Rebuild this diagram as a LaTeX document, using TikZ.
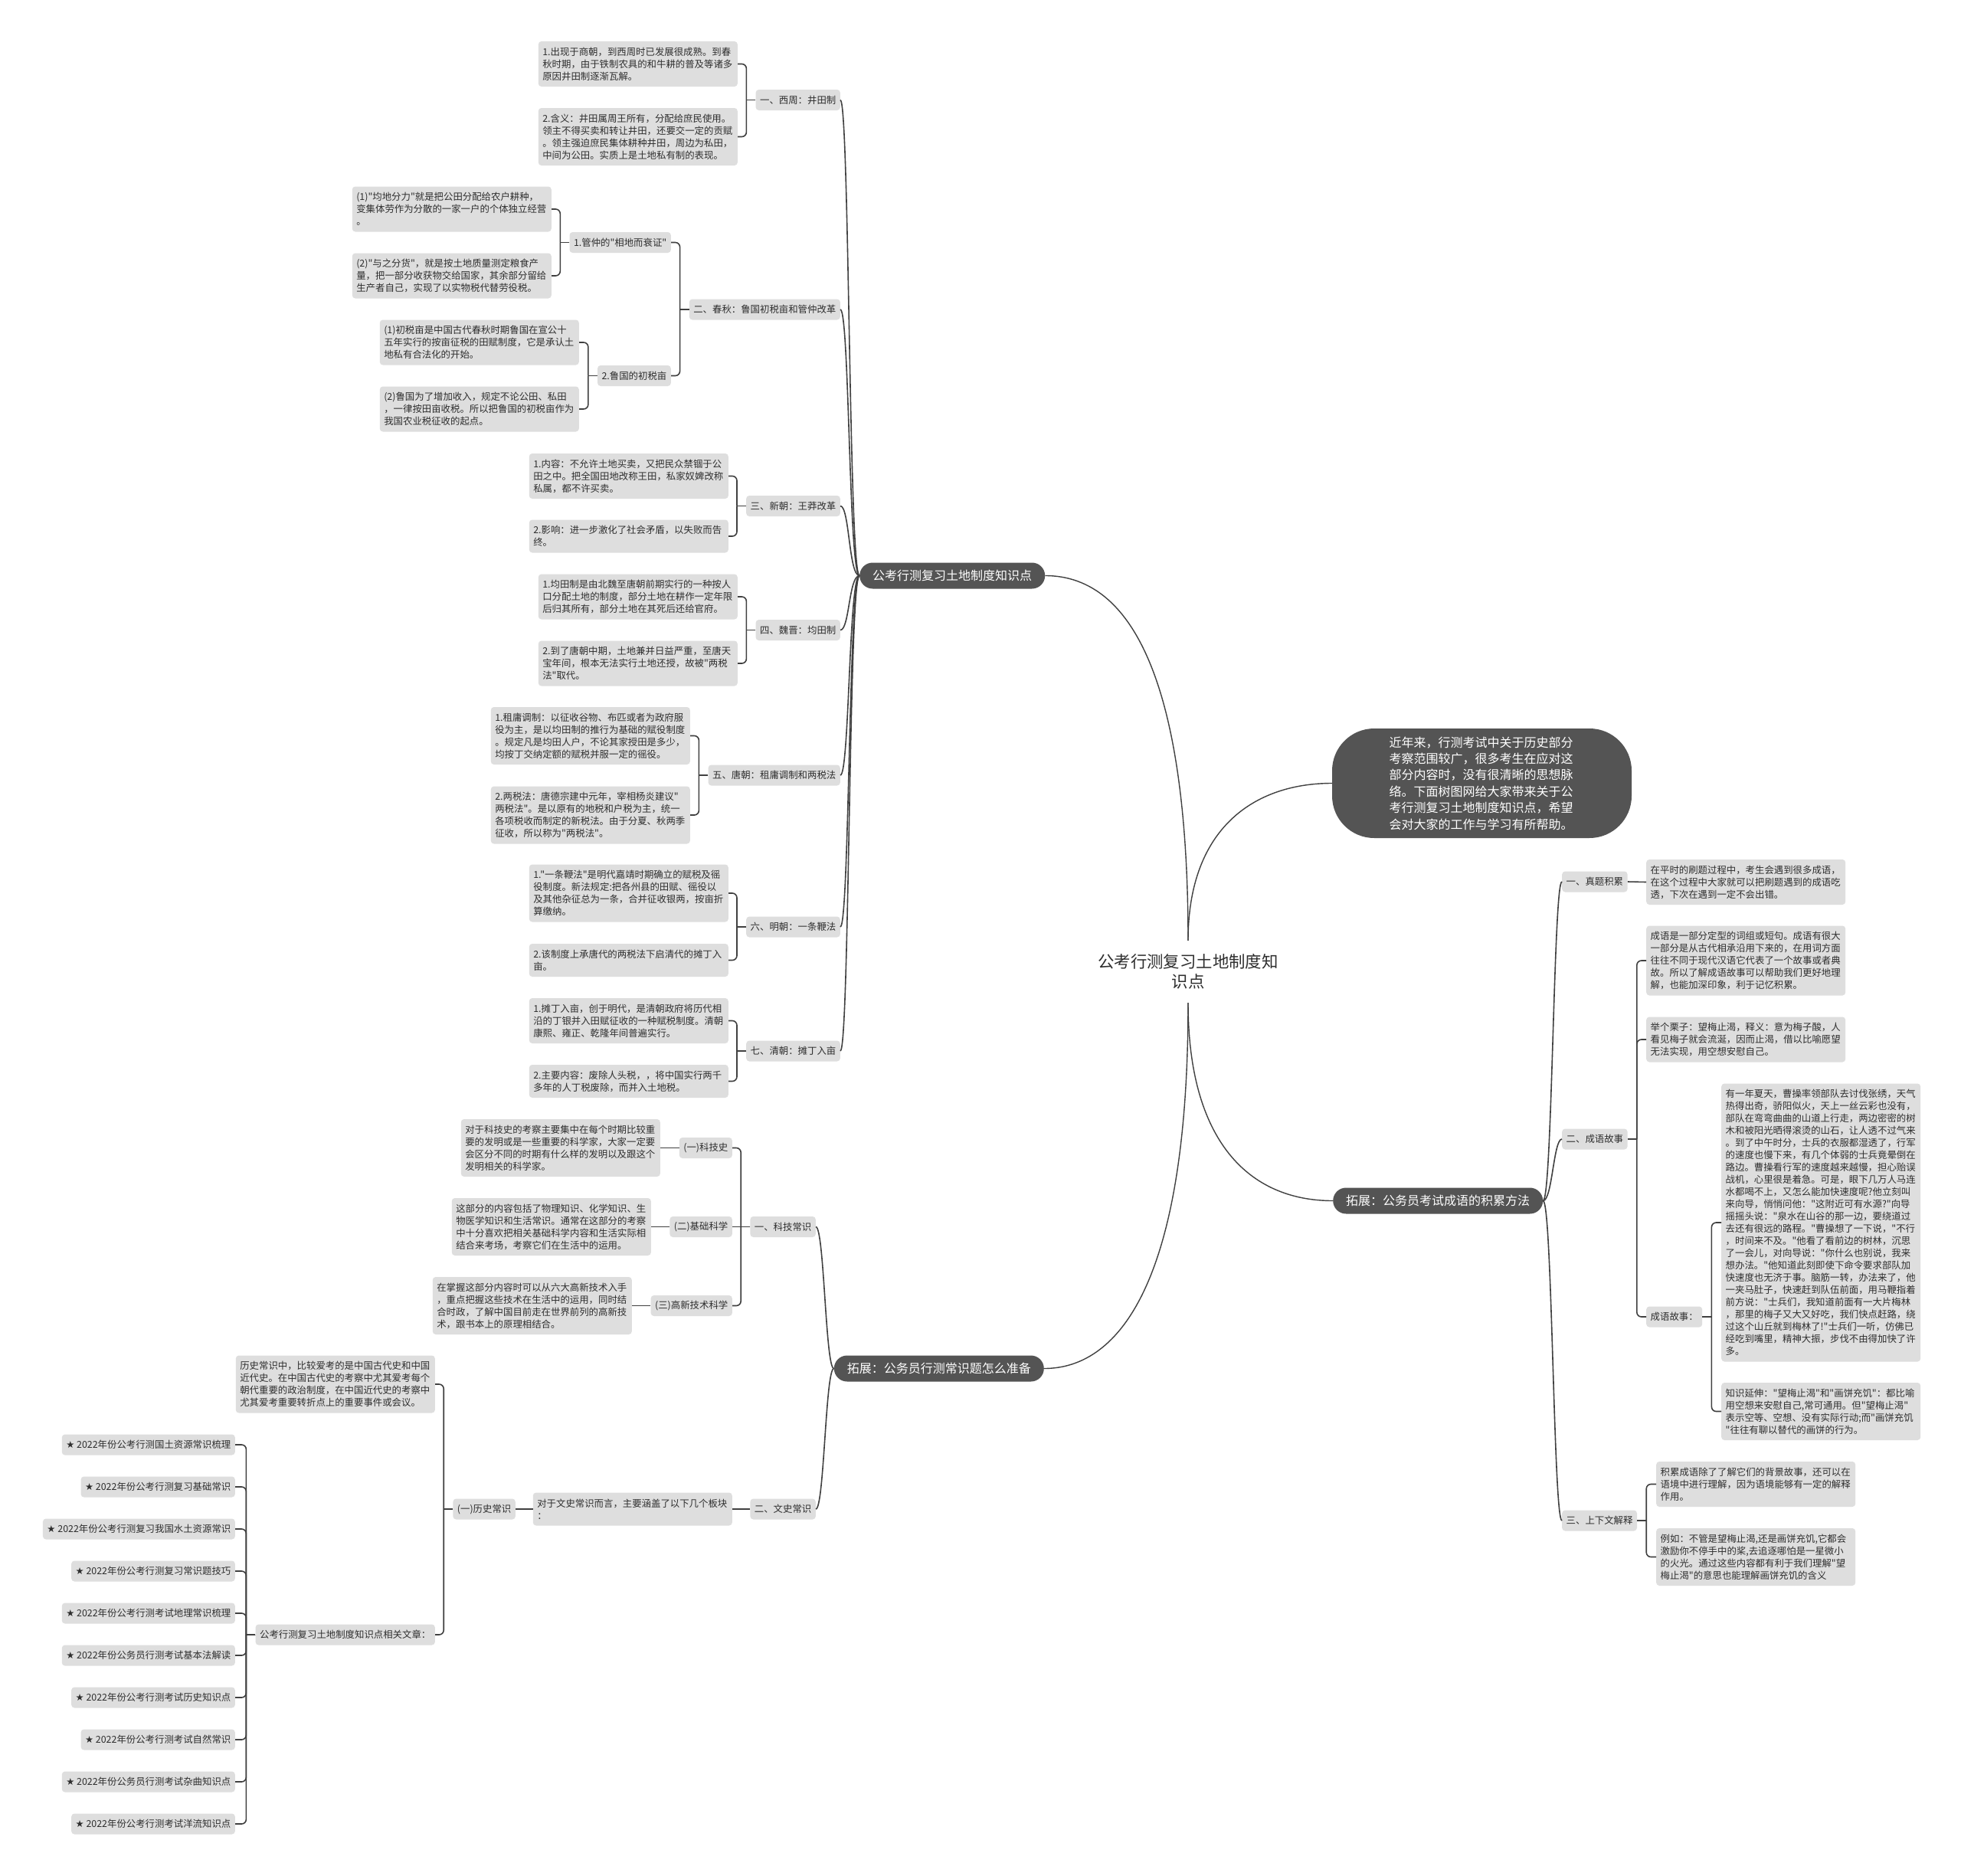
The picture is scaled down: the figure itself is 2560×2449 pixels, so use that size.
\documentclass[tikz,border=0pt]{standalone}
\usepackage{fontspec}
\newfontfamily\cjkf{Noto Sans CJK SC}
\newfontfamily\djv{DejaVu Sans}
\usetikzlibrary{calc}
\definecolor{boxc}{HTML}{DEDEDE}
\definecolor{txt}{HTML}{2E2E2E}
\definecolor{dark}{HTML}{545454}
\definecolor{lnc}{HTML}{404040}
\tikzset{
 sb/.style={fill=boxc, text=txt, rounded corners=4pt, inner xsep=5.5pt, inner ysep=0pt, font=\cjkf\fontsize{12.4}{16}\selectfont, align=left, minimum height=27pt},
 tw/.style={text width=249pt},
 lnA/.style={minimum height=43pt},
 lnB/.style={minimum height=59pt},
 lnC/.style={minimum height=75pt},
 lnD/.style={minimum height=91pt},
 dk/.style={fill=dark, text=white, rounded corners=17pt, inner xsep=17pt, inner ysep=0pt, minimum height=34pt, font=\cjkf\fontsize{16}{20}\selectfont},
 conn/.style={draw=lnc, line width=1.6pt},
 bconn/.style={draw=lnc, line width=1.4pt},
 rc/.style={rounded corners=6pt}
}
\newcommand\conL[2]{\draw[conn] (#1.west) -- ++(-12,0); \draw[conn,rc] ($(#1.west)+(-12,0)$) |- (#2.east);}
\newcommand\conR[2]{\draw[conn] (#1.east) -- ++(12,0); \draw[conn,rc] ($(#1.east)+(12,0)$) |- (#2.west);}
\begin{document}
\begin{tikzpicture}[x=1pt,y=-1pt]
\fill[white] (0,0) rectangle (2560,2449);
\useasboundingbox (0,0) rectangle (2560,2449);

% central and first level
\node[font=\cjkf\fontsize{21.4}{26}\selectfont, text=txt, align=center, minimum height=81pt, inner sep=0pt] (C0) at (1551,1268.5) {公考行测复习土地制度知\\识点};
\node[fill=dark, text=white, rounded corners=55pt, text width=242pt, inner xsep=74.5pt, inner ysep=0pt, minimum height=143pt, align=left, font=\cjkf\fontsize{16}{21.4}\selectfont] (IN) at (1934.5,1022.5) {近年来，行测考试中关于历史部分\\考察范围较广，很多考生在应对这\\部分内容时，没有很清晰的思想脉\\络。下面树图网给大家带来关于公\\考行测复习土地制度知识点，希望\\会对大家的工作与学习有所帮助。};
\node[dk, anchor=west] (L) at (1122,751.5) {公考行测复习土地制度知识点};
\node[dk, anchor=west] (RR) at (1740,1567.5) {拓展：公务员考试成语的积累方法};
\node[dk, anchor=east] (LB) at (1363,1786.5) {拓展：公务员行测常识题怎么准备};

\draw[bconn] (L.east) .. controls +(136,0) and +(0,-278) .. (C0.north);
\draw[bconn] (C0.north) .. controls +(0,-148) and +(-100,0) .. (IN.west);
\draw[bconn] (C0.south) .. controls +(0,180) and +(-110,0) .. (RR.west);
\draw[bconn] (C0.south) .. controls +(0,360) and +(100,0) .. (LB.east);

% left tree second level
\node[sb, anchor=east] (A) at (1097,130.5) {一、西周：井田制};
\node[sb, anchor=east] (B) at (1097,404) {二、春秋：鲁国初税亩和管仲改革};
\node[sb, anchor=east] (C) at (1097,660.5) {三、新朝：王莽改革};
\node[sb, anchor=east] (D) at (1097,822.5) {四、魏晋：均田制};
\node[sb, anchor=east] (E) at (1097,1012) {五、唐朝：租庸调制和两税法};
\node[sb, anchor=east] (F) at (1097,1210) {六、明朝：一条鞭法};
\node[sb, anchor=east] (G) at (1097,1372) {七、清朝：摊丁入亩};
\foreach \n in {A,B,C,D,E,F,G}{\draw[conn] (L.west) .. controls +(-14,0) and +(12,0) .. (\n.east);}

% A
\node[sb, tw, lnB, anchor=east] (A1) at (963,83.5) {1.出现于商朝，到西周时已发展很成熟。到春\\秋时期，由于铁制农具的和牛耕的普及等诸多\\原因井田制逐渐瓦解。};
\node[sb, tw, lnC, anchor=east] (A2) at (963,178.5) {2.含义：井田属周王所有，分配给庶民使用。\\领主不得买卖和转让井田，还要交一定的贡赋\\。领主强迫庶民集体耕种井田，周边为私田，\\中间为公田。实质上是土地私有制的表现。};
\conL{A}{A1}\conL{A}{A2}

% B
\node[sb, anchor=east] (B1) at (876,316.5) {1.管仲的"相地而衰证"};
\node[sb, anchor=east] (B2) at (876,490.5) {2.鲁国的初税亩};
\conL{B}{B1}\conL{B}{B2}
\node[sb, tw, lnB, anchor=east] (B1a) at (720,273) {(1)"均地分力"就是把公田分配给农户耕种，\\变集体劳作为分散的一家一户的个体独立经营\\。};
\node[sb, tw, lnB, anchor=east] (B1b) at (720,360) {(2)"与之分货"，就是按土地质量测定粮食产\\量，把一部分收获物交给国家，其余部分留给\\生产者自己，实现了以实物税代替劳役税。};
\conL{B1}{B1a}\conL{B1}{B1b}
\node[sb, tw, lnB, anchor=east] (B2a) at (756,447) {(1)初税亩是中国古代春秋时期鲁国在宣公十\\五年实行的按亩征税的田赋制度，它是承认土\\地私有合法化的开始。};
\node[sb, tw, lnB, anchor=east] (B2b) at (756,534) {(2)鲁国为了增加收入，规定不论公田、私田\\，一律按田亩收税。所以把鲁国的初税亩作为\\我国农业税征收的起点。};
\conL{B2}{B2a}\conL{B2}{B2b}

% C
\node[sb, tw, lnB, anchor=east] (C1) at (951,621.5) {1.内容：不允许土地买卖，又把民众禁锢于公\\田之中。把全国田地改称王田，私家奴婢改称\\私属，都不许买卖。};
\node[sb, tw, lnA, anchor=east] (C2) at (951,700) {2.影响：进一步激化了社会矛盾，以失败而告\\终。};
\conL{C}{C1}\conL{C}{C2}

% D
\node[sb, tw, lnB, anchor=east] (D1) at (963,779) {1.均田制是由北魏至唐朝前期实行的一种按人\\口分配土地的制度，部分土地在耕作一定年限\\后归其所有，部分土地在其死后还给官府。};
\node[sb, tw, lnB, anchor=east] (D2) at (963,866) {2.到了唐朝中期，土地兼并日益严重，至唐天\\宝年间，根本无法实行土地还授，故被"两税\\法"取代。};
\conL{D}{D1}\conL{D}{D2}

% E
\node[sb, tw, lnC, anchor=east] (E1) at (901,960.5) {1.租庸调制：以征收谷物、布匹或者为政府服\\役为主，是以均田制的推行为基础的赋役制度\\。规定凡是均田人户，不论其家授田是多少，\\均按丁交纳定额的赋税并服一定的徭役。};
\node[sb, tw, lnC, anchor=east] (E2) at (901,1064) {2.两税法：唐德宗建中元年，宰相杨炎建议"\\两税法"。是以原有的地税和户税为主，统一\\各项税收而制定的新税法。由于分夏、秋两季\\征收，所以称为"两税法"。};
\conL{E}{E1}\conL{E}{E2}

% F
\node[sb, tw, lnC, anchor=east] (F1) at (951,1166) {1."一条鞭法"是明代嘉靖时期确立的赋税及徭\\役制度。新法规定:把各州县的田赋、徭役以\\及其他杂征总为一条，合并征收银两，按亩折\\算缴纳。};
\node[sb, tw, lnA, anchor=east] (F2) at (951,1253.5) {2.该制度上承唐代的两税法下启清代的摊丁入\\亩。};
\conL{F}{F1}\conL{F}{F2}

% G
\node[sb, tw, lnB, anchor=east] (G1) at (951,1332.5) {1.摊丁入亩，创于明代，是清朝政府将历代相\\沿的丁银并入田赋征收的一种赋税制度。清朝\\康熙、雍正、乾隆年间普遍实行。};
\node[sb, tw, lnA, anchor=east] (G2) at (951,1411.5) {2.主要内容：废除人头税，，将中国实行两千\\多年的人丁税废除，而并入土地税。};
\conL{G}{G1}\conL{G}{G2}

% LB subtree
\node[sb, anchor=east] (H) at (1065,1601.5) {一、科技常识};
\node[sb, anchor=east] (WS) at (1065,1970) {二、文史常识};
\draw[conn] (LB.west) .. controls +(-11,0) and +(11,0) .. (H.east);
\draw[conn] (LB.west) .. controls +(-11,0) and +(11,0) .. (WS.east);

\node[sb, anchor=east] (H1) at (956,1498.5) {(一)科技史};
\node[sb, anchor=east] (H2) at (956,1601.5) {(二)基础科学};
\node[sb, anchor=east] (H3) at (956,1704.5) {(三)高新技术科学};
\conL{H}{H1}\draw[conn] (H.west) -- (H2.east);\conL{H}{H3}
\node[sb, tw, lnC, anchor=east] (H1a) at (862,1498.5) {对于科技史的考察主要集中在每个时期比较重\\要的发明或是一些重要的科学家，大家一定要\\会区分不同的时期有什么样的发明以及跟这个\\发明相关的科学家。};
\node[sb, tw, lnC, anchor=east] (H2a) at (850,1601.5) {这部分的内容包括了物理知识、化学知识、生\\物医学知识和生活常识。通常在这部分的考察\\中十分喜欢把相关基础科学内容和生活实际相\\结合来考场，考察它们在生活中的运用。};
\node[sb, tw, lnC, anchor=east] (H3a) at (825,1704.5) {在掌握这部分内容时可以从六大高新技术入手\\，重点把握这些技术在生活中的运用，同时结\\合时政，了解中国目前走在世界前列的高新技\\术，跟书本上的原理相结合。};
\draw[conn] (H1.west) -- (H1a.east);
\draw[conn] (H2.west) -- (H2a.east);
\draw[conn] (H3.west) -- (H3a.east);

\node[sb, tw, lnA, anchor=east] (WSb) at (956,1970) {对于文史常识而言，主要涵盖了以下几个板块\\：};
\draw[conn] (WS.west) -- (WSb.east);
\node[sb, anchor=east] (I1) at (673,1970) {(一)历史常识};
\draw[conn] (WSb.west) -- (I1.east);
\node[sb, tw, lnC, anchor=east] (I1a) at (568,1807) {历史常识中，比较爱考的是中国古代史和中国\\近代史。在中国古代史的考察中尤其爱考每个\\朝代重要的政治制度，在中国近代史的考察中\\尤其爱考重要转折点上的重要事件或会议。};
\node[sb, anchor=east] (RP) at (568,2134) {公考行测复习土地制度知识点相关文章：};
\conL{I1}{I1a}\conL{I1}{RP}

\node[sb, anchor=east] (K1) at (307,1886) {{\djv ★} 2022年份公考行测国土资源常识梳理};
\node[sb, anchor=east] (K2) at (307,1941) {{\djv ★} 2022年份公考行测复习基础常识};
\node[sb, anchor=east] (K3) at (307,1996) {{\djv ★} 2022年份公考行测复习我国水土资源常识};
\node[sb, anchor=east] (K4) at (307,2051) {{\djv ★} 2022年份公考行测复习常识题技巧};
\node[sb, anchor=east] (K5) at (307,2106) {{\djv ★} 2022年份公考行测考试地理常识梳理};
\node[sb, anchor=east] (K6) at (307,2161) {{\djv ★} 2022年份公务员行测考试基本法解读};
\node[sb, anchor=east] (K7) at (307,2216) {{\djv ★} 2022年份公考行测考试历史知识点};
\node[sb, anchor=east] (K8) at (307,2271) {{\djv ★} 2022年份公考行测考试自然常识};
\node[sb, anchor=east] (K9) at (307,2326) {{\djv ★} 2022年份公务员行测考试杂曲知识点};
\node[sb, anchor=east] (K10) at (307,2381) {{\djv ★} 2022年份公考行测考试洋流知识点};
\foreach \k in {K1,K2,K3,K4,K5,K6,K7,K8,K9,K10}{\conL{RP}{\k}}

% right subtree
\node[sb, anchor=west] (R1) at (2039,1151) {一、真题积累};
\node[sb, anchor=west] (R2) at (2039,1487) {二、成语故事};
\node[sb, anchor=west] (R3) at (2039,1985) {三、上下文解释};
\foreach \n in {R1,R2,R3}{\draw[conn] (RR.east) .. controls +(12,0) and +(-11,0) .. (\n.west);}

\node[sb, tw, lnB, anchor=west] (R1a) at (2149,1151.5) {在平时的刷题过程中，考生会遇到很多成语，\\在这个过程中大家就可以把刷题遇到的成语吃\\透，下次在遇到一定不会出错。};
\draw[conn] (R1.east) -- (R1a.west);

\node[sb, tw, lnD, anchor=west] (R2a) at (2149,1254) {成语是一部分定型的词组或短句。成语有很大\\一部分是从古代相承沿用下来的，在用词方面\\往往不同于现代汉语它代表了一个故事或者典\\故。所以了解成语故事可以帮助我们更好地理\\解，也能加深印象，利于记忆积累。};
\node[sb, tw, lnB, anchor=west] (R2b) at (2149,1357) {举个栗子：望梅止渴，释义：意为梅子酸，人\\看见梅子就会流涎，因而止渴，借以比喻愿望\\无法实现，用空想安慰自己。};
\node[sb, anchor=west] (R2c) at (2149,1719) {成语故事：};
\conR{R2}{R2a}\conR{R2}{R2b}\conR{R2}{R2c}

\node[sb, tw, minimum height=363pt, anchor=west] (ST) at (2247,1596) {有一年夏天，曹操率领部队去讨伐张绣，天气\\热得出奇，骄阳似火，天上一丝云彩也没有，\\部队在弯弯曲曲的山道上行走，两边密密的树\\木和被阳光晒得滚烫的山石，让人透不过气来\\。到了中午时分，士兵的衣服都湿透了，行军\\的速度也慢下来，有几个体弱的士兵竟晕倒在\\路边。曹操看行军的速度越来越慢，担心贻误\\战机，心里很是着急。可是，眼下几万人马连\\水都喝不上，又怎么能加快速度呢?他立刻叫\\来向导，悄悄问他："这附近可有水源?"向导\\摇摇头说："泉水在山谷的那一边，要绕道过\\去还有很远的路程。"曹操想了一下说，"不行\\，时间来不及。"他看了看前边的树林，沉思\\了一会儿，对向导说："你什么也别说，我来\\想办法。"他知道此刻即使下命令要求部队加\\快速度也无济于事。脑筋一转，办法来了，他\\一夹马肚子，快速赶到队伍前面，用马鞭指着\\前方说："士兵们，我知道前面有一大片梅林\\，那里的梅子又大又好吃，我们快点赶路，绕\\过这个山丘就到梅林了!"士兵们一听，仿佛已\\经吃到嘴里，精神大振，步伐不由得加快了许\\多。};
\node[sb, tw, lnC, anchor=west] (EX) at (2247,1842.5) {知识延伸："望梅止渴"和"画饼充饥"：都比喻\\用空想来安慰自己,常可通用。但"望梅止渴"\\表示空等、空想、没有实际行动;而"画饼充饥\\"往往有聊以替代的画饼的行为。};
\conR{R2c}{ST}\conR{R2c}{EX}

\node[sb, tw, lnB, anchor=west] (R3a) at (2162,1937.5) {积累成语除了了解它们的背景故事，还可以在\\语境中进行理解，因为语境能够有一定的解释\\作用。};
\node[sb, tw, lnC, anchor=west] (R3b) at (2162,2032.5) {例如：不管是望梅止渴,还是画饼充饥,它都会\\激励你不停手中的桨,去追逐哪怕是一星微小\\的火光。通过这些内容都有利于我们理解"望\\梅止渴"的意思也能理解画饼充饥的含义};
\conR{R3}{R3a}\conR{R3}{R3b}
\end{tikzpicture}
\end{document}
